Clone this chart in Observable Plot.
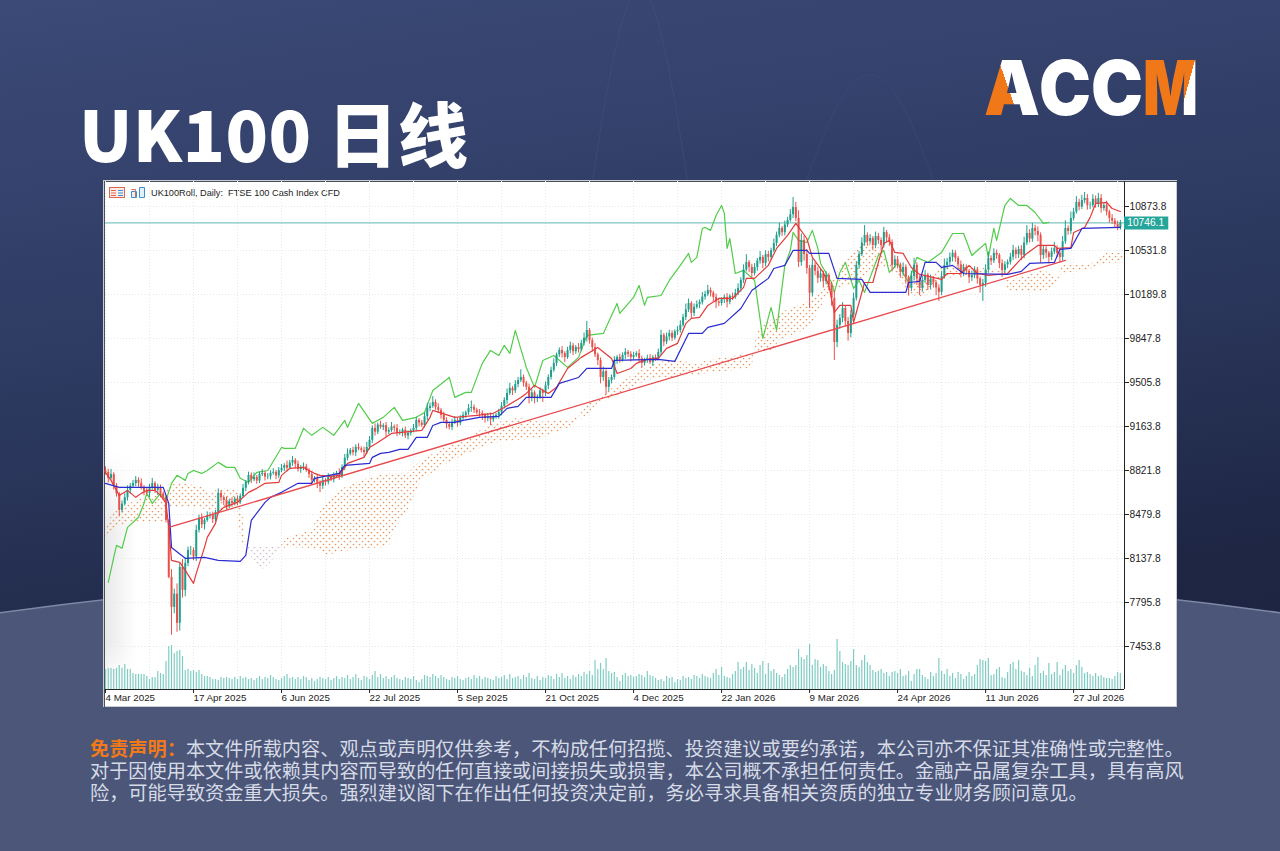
<!DOCTYPE html>
<html><head><meta charset="utf-8">
<script src="https://cdn.jsdelivr.net/npm/d3@7"></script>
<script src="https://cdn.jsdelivr.net/npm/@observablehq/plot@0.6"></script>
<style>
html,body{margin:0;padding:0;width:1280px;height:851px;overflow:hidden;background:#1d2540}
#page{position:relative;width:1280px;height:851px;overflow:hidden;background:linear-gradient(172deg,#3b4a76 0%,#33416b 22%,#2a365b 45%,#1e2644 70%,#1b2240 100%);font-family:"Noto Sans CJK SC","Noto Sans",sans-serif}
#title{position:absolute;left:79px;top:82px;font-size:70px;font-weight:900;color:#fff;line-height:100px;white-space:nowrap;letter-spacing:.3px}
#panel{position:absolute;left:103px;top:180px;width:1074px;height:527px;background:#fff;box-shadow:0 0 0 1px #c9ccd3 inset}
#frame{position:absolute;left:1px;top:1px;right:0;bottom:0;border-top:1px solid #4a5058;border-left:1px solid #4a5058}
#shade{position:absolute;left:2px;top:270px;width:32px;height:239px;background:linear-gradient(90deg,#e9e9e9,#fff);-webkit-mask-image:linear-gradient(180deg,transparent,#000 35%,#000 80%,transparent)}
#panel svg.chart{position:absolute;left:0;top:0;background:transparent}
#head{position:absolute;left:48px;top:8px;font:9.2px "Liberation Sans",sans-serif;color:#1c1c1c;white-space:pre}
#icons{position:absolute;left:6px;top:6px}
#disc{position:absolute;left:90px;top:737px;font-size:19.2px;line-height:22px;color:#d6dbe7;white-space:nowrap}
#disc b{color:#f07a1a;font-weight:700}
#logo{position:absolute;left:958px;top:40px;overflow:visible}
#deco{position:absolute;left:0;top:0}
</style></head>
<body>
<div id="page">
<svg id="deco" width="1280" height="851"><path d="M590 200C610 60 625 -10 640 -10S670 60 690 200" fill="none" stroke="#46547f" stroke-opacity=".45"/><path d="M800 200C830 110 850 75 870 75S910 110 940 200" fill="none" stroke="#46547f" stroke-opacity=".35"/><path d="M-20 615.5Q640 522.5 1300 615.5V880H-20Z" fill="#4b5678" stroke="#7d87a6" stroke-width="1.5"/></svg>
<div id="title">UK100 日线</div>
<svg id="logo" width="260" height="90">
<defs>
<linearGradient id="gA" gradientUnits="userSpaceOnUse" x1="38" y1="45" x2="58" y2="38"><stop offset=".5" stop-color="#f07818"/><stop offset=".5" stop-color="#fff"/></linearGradient>
<linearGradient id="gM" gradientUnits="userSpaceOnUse" x1="207.5" y1="41.5" x2="251.5" y2="53.5"><stop offset=".5" stop-color="#f07818"/><stop offset=".5" stop-color="#fff"/></linearGradient>
</defs>
<text y="75" font-family="Inter,Roboto,'Liberation Sans',sans-serif" font-weight="900" font-size="76" fill="#fff"><tspan x="26" textLength="56" lengthAdjust="spacingAndGlyphs" fill="url(#gA)">A</tspan><tspan x="81" textLength="104" lengthAdjust="spacingAndGlyphs">CC</tspan><tspan x="185" textLength="55" lengthAdjust="spacingAndGlyphs" fill="url(#gM)">M</tspan></text>
</svg>
<div id="panel"><div id="shade"></div><div id="frame"></div>
<svg id="icons" width="40" height="14"><rect x=".5" y="1.5" width="15" height="10" fill="#fbeee9" stroke="#e0644e"/><path d="M2 4.5h5M2 7h5M2 9.5h5" stroke="#e0644e"/><path d="M9 4.5h5M9 7h5M9 9.5h5" stroke="#3c8ed0"/><path d="M22.5 5.5h5v6h-5zM30.5 1.5h5v10h-5z" fill="#e2f0fa" stroke="#3c8ed0"/><path d="M22.5 3.5h4v8" fill="none" stroke="#e0644e"/></svg>
<div id="head">UK100Roll, Daily:  FTSE 100 Cash Index CFD</div>
</div>
<div id="disc"><b>免责声明&#xFF1A;</b>本文件所载内容、观点或声明仅供参考&#xFF0C;不构成任何招揽、投资建议或要约承诺&#xFF0C;本公司亦不保证其准确性或完整性。<br>对于因使用本文件或依赖其内容而导致的任何直接或间接损失或损害&#xFF0C;本公司概不承担任何责任。金融产品属复杂工具&#xFF0C;具有高风<br>险&#xFF0C;可能导致资金重大损失。强烈建议阁下在作出任何投资决定前&#xFF0C;务必寻求具备相关资质的独立专业财务顾问意见。</div>
</div>
<svg width="0" height="0" style="position:absolute"><defs>
<pattern id="dotsOrange" width="6" height="6" patternUnits="userSpaceOnUse"><circle cx="1.5" cy="1.5" r=".85" fill="#e59a63"/><circle cx="4.5" cy="4.5" r=".85" fill="#e59a63"/></pattern>
<pattern id="dotsThistle" width="6" height="6" patternUnits="userSpaceOnUse"><circle cx="1.5" cy="1.5" r=".85" fill="#d4bccf"/><circle cx="4.5" cy="4.5" r=".85" fill="#d4bccf"/></pattern>
</defs></svg>
<script>
// ---- Axis ticks ----
const priceTicks=[7453.8,7795.8,8137.8,8479.8,8821.8,9163.8,9505.8,9847.8,10189.8,10531.8,10873.8];
const dateTicks=[0,32,64,96,128,160,192,224,256,288,320,352];
const dateLabels=["4 Mar 2025","17 Apr 2025","6 Jun 2025","22 Jul 2025","5 Sep 2025","21 Oct 2025","4 Dec 2025","22 Jan 2026","9 Mar 2026","24 Apr 2026","11 Jun 2026","27 Jul 2026"];
const lastPrice=10746.1;

// ---- Daily closes, one per bar ----
const closes=[
8807,8760,8790,8700,8640,8512,8560,8610,8667,8700,
8720,8745,8722,8690,8660,8644,8690,8720,8667,8690,
8640,8613,8434,7991,7758,7860,7634,8069,7890,8100,
8201,8201,8150,8356,8450,8400,8434,8470,8473,8440,
8496,8644,8610,8590,8540,8580,8566,8600,8574,8620,
8683,8730,8784,8750,8768,8740,8790,8799,8770,8773,
8800,8807,8780,8820,8838,8860,8840,8880,8900,8870,
8830,8846,8850,8822,8790,8745,8760,8722,8700,8745,
8730,8768,8750,8780,8799,8775,8846,8916,8950,8978,
8960,9001,8990,8978,8960,9001,9056,9149,9120,9175,
9157,9170,9120,9133,9160,9149,9110,9118,9135,9090,
9110,9130,9149,9211,9190,9172,9240,9304,9320,9351,
9310,9289,9250,9211,9180,9157,9195,9211,9190,9227,
9250,9270,9304,9312,9290,9270,9266,9250,9225,9240,
9215,9235,9250,9273,9320,9367,9420,9460,9440,9490,
9520,9545,9500,9468,9390,9425,9380,9390,9440,9421,
9480,9545,9600,9654,9720,9755,9730,9700,9755,9790,
9745,9778,9760,9809,9850,9910,9830,9778,9720,9677,
9545,9590,9468,9520,9545,9677,9700,9680,9716,9740,
9725,9700,9716,9730,9690,9654,9680,9693,9660,9700,
9690,9740,9872,9820,9860,9887,9850,9900,9910,9950,
10011,10070,10120,10043,10090,10110,10128,10170,10190,10221,
10200,10167,10130,10120,10150,10167,10130,10175,10167,10200,
10237,10300,10380,10439,10400,10353,10400,10450,10478,10430,
10500,10478,10530,10586,10650,10703,10670,10730,10765,10810,
10866,10781,10439,10610,10500,10392,10200,10416,10370,10315,
10350,10290,10338,10260,10159,9817,9950,10004,10081,9980,
9887,10030,10159,10416,10500,10590,10649,10600,10625,10570,
10640,10610,10570,10672,10630,10594,10416,10460,10420,10361,
10400,10320,10237,10330,10416,10310,10237,10300,10340,10260,
10310,10280,10240,10206,10330,10416,10440,10478,10510,10470,
10420,10353,10400,10370,10320,10338,10380,10310,10260,10276,
10380,10470,10450,10510,10493,10430,10377,10420,10439,10480,
10532,10500,10540,10493,10590,10664,10620,10703,10680,10649,
10493,10540,10510,10478,10520,10548,10510,10478,10600,10703,
10680,10781,10830,10905,10870,10920,10936,10880,10882,10930,
10890,10936,10858,10880,10830,10781,10760,10734,10710,10746];

// ---- Wick lengths above / below the candle body, in index points ----
const upperWick=[
30,25,40,15,20,10,25,30,35,20,25,30,20,35,15,30,25,40,15,25,
20,15,10,5,60,40,80,30,60,40,25,30,20,40,25,35,15,30,20,25,
15,35,20,15,25,20,30,15,25,20,30,15,25,20,35,15,20,30,15,25,
20,30,15,25,30,15,35,20,30,15,25,15,30,20,15,25,15,30,20,25,
15,30,20,25,15,35,20,30,40,15,25,20,30,15,25,40,30,20,35,15,
30,15,25,20,35,15,30,20,15,25,20,15,30,25,15,20,30,40,25,45,
20,30,15,25,20,15,25,30,15,20,25,15,30,50,20,15,25,20,15,25,
30,20,15,25,30,20,35,40,15,30,25,60,20,15,25,30,15,20,25,15,
30,20,25,35,15,20,30,15,25,30,20,15,30,25,40,70,15,20,30,15,
20,35,15,25,20,30,15,25,20,30,15,20,25,15,30,20,15,25,30,15,
20,25,40,15,30,25,20,15,30,35,25,45,35,15,25,30,20,35,25,40,
20,15,25,30,15,20,30,15,25,30,35,20,40,60,15,25,30,20,45,15,
30,25,20,35,25,40,15,30,25,40,78,40,60,50,30,40,25,50,20,30,
35,20,30,15,25,60,40,30,45,20,30,35,40,30,25,40,77,20,30,15,
35,25,20,40,15,25,20,30,25,15,35,20,15,40,55,20,25,30,35,15,
30,20,15,25,40,50,30,35,25,20,15,30,25,20,15,35,25,20,15,30,
40,50,20,35,25,15,30,25,20,30,40,20,25,30,45,60,30,40,25,35,
20,30,25,15,30,45,20,25,40,60,20,50,30,45,25,40,47,30,25,35,
25,40,30,20,35,15,30,20,25,20];
const lowerWick=[
20,35,15,30,25,50,20,15,25,30,15,25,30,20,35,15,30,20,25,40,
30,25,20,10,217,50,70,60,60,50,25,40,30,35,20,30,40,15,25,30,
20,15,30,40,25,15,30,20,25,15,15,25,20,30,15,25,20,15,30,20,
25,15,30,20,15,25,30,15,25,35,20,30,25,15,30,35,20,40,50,25,
30,20,15,25,20,30,15,25,20,15,25,30,15,20,35,15,20,25,30,20,
15,25,40,20,15,30,25,15,35,20,30,20,15,25,30,15,20,30,25,15,
20,25,30,15,35,20,25,15,30,20,15,25,20,30,25,15,30,40,35,25,
45,20,15,30,25,20,30,15,35,20,25,15,30,25,50,35,40,30,15,70,
25,30,20,15,25,20,35,40,15,25,30,20,25,15,20,30,25,35,20,40,
50,30,60,35,25,20,30,25,15,30,25,35,20,15,30,40,20,25,15,30,
20,15,25,35,20,30,25,15,30,20,15,25,20,40,25,15,30,20,25,15,
30,35,50,25,20,30,45,20,25,15,20,30,25,15,40,45,20,30,25,40,
25,35,20,15,25,20,30,25,20,15,30,25,40,30,50,45,120,30,35,40,
30,50,25,40,60,140,40,30,35,40,60,35,25,20,30,15,25,35,20,40,
25,30,40,20,35,30,50,25,30,45,30,50,60,25,35,50,55,30,25,40,
35,40,60,70,25,20,30,25,35,30,40,35,25,30,45,30,25,40,60,124,
30,25,35,20,30,40,55,25,30,20,25,35,30,40,25,20,30,25,35,50,
60,30,40,50,25,20,35,45,30,20,30,25,20,15,30,20,25,35,30,20,
30,25,35,20,30,35,25,30,25,20];

// ---- Volume per bar (thousand ticks) ----
const volumes=[
20,21,21,20,21,24,21,25,20,20,16,15,15,15,15,13,10,12,12,18,
16,15,28,43,44,36,38,39,33,19,20,18,19,17,19,15,13,13,12,10,
10,9,12,11,12,11,10,12,10,13,11,12,10,11,9,11,13,10,12,11,
14,12,10,9,11,13,15,11,12,10,12,10,13,12,9,11,8,10,12,11,
10,12,9,11,13,10,12,11,14,10,12,15,11,9,13,12,10,14,18,12,
15,11,13,10,12,14,11,10,9,12,11,10,13,9,7,10,14,13,12,15,
13,11,14,12,10,9,12,11,13,10,9,11,12,10,14,11,13,10,12,11,
10,9,13,11,12,14,10,15,11,12,13,10,14,12,16,11,10,13,9,12,
11,14,13,10,15,12,16,11,13,10,14,12,15,13,17,15,18,14,29,20,
26,20,31,18,16,17,12,8,14,16,13,14,12,13,15,14,12,18,14,13,
11,9,10,8,13,11,12,7,10,9,13,11,12,10,14,13,11,15,13,12,
11,16,20,14,22,13,12,11,15,18,27,20,22,27,19,25,21,16,24,28,
15,26,18,20,16,14,12,15,20,24,22,24,40,32,30,34,45,24,30,29,
22,25,23,18,15,19,50,38,27,25,24,28,40,24,22,29,34,27,24,19,
17,18,20,16,17,13,17,18,16,20,13,14,18,8,15,20,20,14,12,10,
17,13,16,31,18,15,20,13,16,11,17,15,10,13,17,13,15,24,30,29,
28,31,14,15,20,22,12,11,17,25,27,20,29,18,17,14,21,13,24,32,
16,18,14,26,15,17,27,14,20,24,18,20,16,24,29,22,16,17,15,13,
16,13,14,12,11,11,10,13,17,16];

// ---- Ichimoku lines: bar index and price ----
const tenkanIdx=[0,2,5,8,11,13,15,18,20,22,23,24,27,29,32,33,36,37,40,41,43,48,50,52,55,58,63,64,67,72,76,78,82,85,88,94,96,99,104,115,118,119,127,135,141,145,151,153,156,161,164,168,173,179,184,186,191,193,197,201,204,208,211,213,216,219,223,228,232,233,236,241,244,248,251,255,257,261,263,265,267,271,272,273,276,279,281,283,285,287,290,293,296,304,306,311,314,317,321,328,333,335,339,345,346,351,352,356,358,360,364,366,369];
const tenkanVal=[8807,8745,8628,8667,8613,8644,8667,8667,8628,8566,8380,8123,8108,8046,7945,8022,8224,8302,8411,8496,8535,8574,8613,8652,8683,8722,8729,8784,8838,8846,8799,8784,8776,8784,8877,8924,9001,9040,9110,9134,9235,9289,9235,9250,9266,9312,9390,9421,9483,9421,9468,9615,9701,9778,9693,9576,9615,9654,9685,9693,9771,9810,9965,10004,10012,10105,10159,10159,10245,10315,10315,10416,10548,10649,10742,10625,10478,10361,10260,10050,10105,10105,9973,10050,10283,10283,10439,10587,10610,10517,10509,10400,10346,10307,10353,10353,10416,10353,10338,10353,10470,10509,10571,10571,10548,10555,10672,10711,10789,10897,10905,10858,10835];
const kijunIdx=[0,5,21,23,24,29,36,41,49,51,53,58,60,64,70,75,76,85,87,96,97,100,103,107,110,113,117,119,122,127,130,136,143,146,150,153,162,165,172,175,184,185,201,207,212,217,219,225,231,235,241,243,247,250,255,256,263,266,275,278,291,292,296,298,302,304,308,312,328,333,336,345,347,351,355,369];
const kijunVal=[8722,8691,8691,8566,8224,8139,8147,8123,8116,8162,8434,8574,8613,8652,8722,8722,8761,8799,8862,8877,8924,8955,8963,8986,8986,9079,9079,9172,9196,9196,9211,9235,9242,9305,9320,9390,9390,9499,9545,9615,9615,9677,9685,9670,9887,9887,9934,9965,10081,10221,10315,10392,10416,10532,10532,10509,10509,10315,10307,10206,10206,10283,10291,10439,10439,10400,10416,10353,10346,10369,10431,10439,10540,10548,10703,10711];
const chikouIdx=[1,3,4,6,8,12,14,15,17,20,22,24,26,29,30,32,35,37,41,44,47,49,52,55,59,64,65,69,72,75,79,83,87,88,92,97,101,105,108,113,116,119,125,127,131,133,136,137,140,143,145,147,149,153,156,159,163,168,172,175,181,186,187,192,194,196,197,202,205,209,212,213,215,217,218,220,222,224,225,226,227,229,232,236,239,242,244,247,249,250,252,255,257,259,260,264,265,267,269,272,274,276,281,283,285,288,292,295,299,304,308,312,315,317,320,321,323,324,327,329,332,335,338,341,343];
const chikouVal=[7952,8147,8240,8217,8380,8458,8566,8644,8566,8644,8590,8722,8784,8745,8799,8822,8799,8822,8885,8846,8846,8761,8729,8807,8822,9001,8994,8994,9149,9095,9157,9095,9211,9157,9343,9188,9235,9312,9211,9235,9273,9444,9545,9390,9429,9429,9600,9654,9755,9716,9794,9732,9911,9623,9468,9677,9716,9623,9701,9872,9887,10120,10043,10167,10260,10105,10167,10182,10299,10416,10509,10439,10478,10703,10711,10688,10804,10882,10820,10548,10625,10353,10377,10299,9848,10089,9911,10416,10532,10672,10610,10594,10688,10548,10431,10283,10206,10361,10439,10237,10299,10206,10493,10532,10361,10431,10283,10478,10439,10517,10664,10664,10493,10532,10587,10478,10703,10610,10882,10936,10882,10882,10827,10742,10750];

// ---- Ichimoku cloud: bar index, upper and lower edge ----
const cloudIdxA=[0,2,4,9,16,21,22,23,27,35,37,41,44,48,49,50,51];
const cloudTopA=[8357,8458,8527,8566,8628,8613,8628,8722,8729,8691,8652,8667,8683,8667,8590,8473,8224];
const cloudBotA=[8302,8341,8380,8419,8419,8419,8551,8535,8535,8527,8512,8496,8512,8551,8333,8224,8209];
const cloudIdxB=[51,57,60,64];
const cloudTopB=[8224,8224,8224,8224];
const cloudBotB=[8209,8046,8100,8216];
const cloudIdxC=[64,66,75,79,81,85,93,103,105,110,112,115,123,128,132,141,150,158,168,172,175,179,185,190,193,197,201,207,210,214,219,235,236,237,243,245,252,257,261,264,270,273,276,279,282,285,289,293,298,304,311,320,327,328,333,341,345,346,348,357,361,364,370];
const cloudTopC=[8240,8294,8357,8535,8590,8667,8745,8799,8799,8799,8846,8900,8994,9040,9079,9188,9227,9196,9211,9235,9343,9382,9468,9538,9576,9623,9662,9677,9677,9639,9677,9732,9755,9911,10004,10043,10105,10144,10221,10299,10470,10532,10610,10610,10532,10439,10377,10299,10299,10392,10416,10392,10377,10299,10322,10377,10338,10314,10416,10416,10454,10509,10509];
const cloudBotC=[8209,8224,8216,8186,8162,8186,8216,8224,8357,8512,8613,8745,8862,8916,8955,9033,9056,9071,9149,9211,9250,9343,9390,9444,9483,9522,9538,9545,9553,9561,9576,9615,9740,9740,9755,9833,9887,9965,10120,10221,10260,10283,10315,10361,10392,10392,10299,10182,10167,10299,10338,10346,10346,10221,10206,10206,10260,10291,10353,10377,10408,10431,10439];

// ---- Trend line drawn on the chart ----
const trendIdx=[23,349];
const trendVal=[8380,10454];

// ---- Chart ----
const bars=closes.map((c,i)=>{const o=i?closes[i-1]:8820;return {i,o,c,h:Math.max(o,c)+upperWick[i],l:Math.min(o,c)-lowerWick[i]};});
const UP="#1f9f8c",DOWN="#e8524c",TEAL="#26a69a";
const floorPrice=7119.6, volUnit=7.77;
const candleColor=d=>d.c>=d.o?UP:DOWN;
const cloud=(idx,top,bot,fill)=>Plot.areaY(idx,{x:d=>d,y1:(d,i)=>top[i],y2:(d,i)=>bot[i],fill});
const series=(idx,val,stroke,w)=>Plot.line(idx,{x:d=>d,y:(d,i)=>val[i],stroke,strokeWidth:w,curve:"linear"});

const chart=Plot.plot({
  width:1074,height:527,marginLeft:2,marginRight:53,marginTop:1,marginBottom:18,
  style:{background:"transparent",fontFamily:"'Liberation Sans',sans-serif",fontSize:"10px",color:"#222"},
  x:{type:"linear",domain:[0,370.5],axis:null},
  y:{type:"linear",domain:[floorPrice,11068],axis:null},
  marks:[
    Plot.ruleX(d3.range(0,370,16),{stroke:"#e4eaea",strokeDasharray:"1,2"}),
    Plot.ruleY(priceTicks,{stroke:"#e4eaea",strokeDasharray:"1,2"}),
    cloud(cloudIdxA,cloudTopA,cloudBotA,"url(#dotsOrange)"),
    cloud(cloudIdxB,cloudTopB,cloudBotB,"url(#dotsThistle)"),
    cloud(cloudIdxC,cloudTopC,cloudBotC,"url(#dotsOrange)"),
    Plot.ruleY([lastPrice],{stroke:"#7cc6bf",strokeWidth:1.3}),
    Plot.ruleX(volumes,{x:(d,i)=>i,y1:floorPrice,y2:d=>floorPrice+d*volUnit,stroke:"#7fcdc2",strokeWidth:1.2}),
    series(chikouIdx,chikouVal,"#52cc4a",1.2),
    Plot.ruleX(bars,{x:"i",y1:"l",y2:"h",stroke:candleColor,strokeWidth:1}),
    Plot.ruleX(bars,{x:"i",y1:"o",y2:"c",stroke:candleColor,strokeWidth:2}),
    series(tenkanIdx,tenkanVal,"#e23b3b",1.2),
    series(kijunIdx,kijunVal,"#2b2bd0",1.2),
    series(trendIdx,trendVal,"#e8474c",1.3),
    Plot.ruleX([370.5],{stroke:"#222",strokeWidth:1}),
    Plot.ruleY([floorPrice],{x1:0,x2:370.5,stroke:"#222",strokeWidth:1}),
    Plot.axisY(priceTicks,{anchor:"right",tickSize:4,tickPadding:1,tickFormat:d3.format(".1f"),fill:"#222",stroke:"#222",label:null,fontSize:10.2}),
    Plot.axisX(dateTicks,{anchor:"bottom",tickSize:4,tickPadding:1,tickFormat:d=>dateLabels[dateTicks.indexOf(d)],textAnchor:"start",fill:"#222",stroke:"#222",label:null,fontSize:9.8}),
    Plot.ruleY([lastPrice],{x1:370.5,x2:386.6,stroke:TEAL,strokeWidth:13}),
    Plot.text([lastPrice],{x:371.5,y:d=>d,text:d=>d3.format(".1f")(d),textAnchor:"start",fill:"#fff",fontSize:10.2})
  ]
});
chart.classList.add("chart");
document.getElementById("panel").appendChild(chart);
</script>
</body></html>
